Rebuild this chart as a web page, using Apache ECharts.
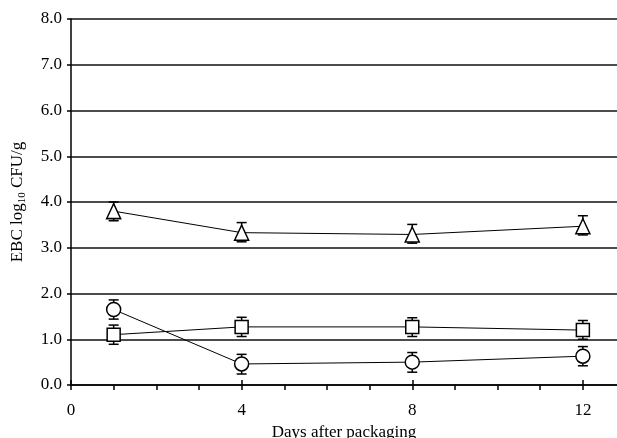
<!DOCTYPE html>
<html>
<head>
<meta charset="utf-8">
<script src="https://cdn.jsdelivr.net/npm/echarts@6/dist/echarts.min.js"></script>
<style>html,body{margin:0;padding:0;background:#fff}#c{width:617px;height:438px}</style>
</head>
<body>
<div id="c"></div>
<script>
const days = [1, 4, 8, 12];
const xTickValues = [0, 1, 2, 3, 4, 5, 6, 7, 8, 9, 10, 11, 12];
const xLabelValues = [0, 4, 8, 12];
const yTickValues = [0, 1, 2, 3, 4, 5, 6, 7, 8];

const triangleMean = [3.80, 3.33, 3.29, 3.47];
const triangleLow  = [3.59, 3.13, 3.10, 3.28];
const triangleHigh = [4.00, 3.55, 3.51, 3.70];

const squareMean = [1.10, 1.27, 1.27, 1.20];
const squareLow  = [0.89, 1.06, 1.06, 1.00];
const squareHigh = [1.31, 1.48, 1.47, 1.41];

const circleMean = [1.65, 0.46, 0.50, 0.63];
const circleLow  = [1.44, 0.24, 0.28, 0.42];
const circleHigh = [1.86, 0.67, 0.71, 0.84];

const FONT = 'Liberation Serif';

function pts(mean) { return days.map((d, i) => [d, mean[i]]); }
function errs(lo, hi) { return days.map((d, i) => [d, lo[i], hi[i]]); }

function errorRender(params, api) {
  const x = api.value(0);
  const pHi = api.coord([x, api.value(2)]);
  const pLo = api.coord([x, api.value(1)]);
  const w = 5;
  const style = { stroke: '#000', lineWidth: 1.5 };
  return {
    type: 'group',
    children: [
      { type: 'line', shape: { x1: pHi[0], y1: pHi[1], x2: pLo[0], y2: pLo[1] }, style: style },
      { type: 'line', shape: { x1: pHi[0] - w, y1: pHi[1], x2: pHi[0] + w, y2: pHi[1] }, style: style },
      { type: 'line', shape: { x1: pLo[0] - w, y1: pLo[1], x2: pLo[0] + w, y2: pLo[1] }, style: style }
    ]
  };
}

function lineSeries(name, mean, symbol, size) {
  return {
    name: name, type: 'line', data: pts(mean), symbol: symbol, symbolSize: size,
    showAllSymbol: true, z: 5,
    lineStyle: { color: '#000', width: 1 },
    itemStyle: { color: '#fff', borderColor: '#000', borderWidth: 1.5 },
    emphasis: { disabled: true }, animation: false
  };
}
function errSeries(lo, hi) {
  return { type: 'custom', data: errs(lo, hi), renderItem: errorRender, z: 3, animation: false, silent: true };
}

const chart = echarts.init(document.getElementById('c'), null, { renderer: 'canvas' });
chart.setOption({
  animation: false,
  backgroundColor: '#fff',
  grid: { left: 71, right: 0, top: 19, bottom: 53, containLabel: false, outerBoundsMode: 'none' },
  xAxis: [{
    type: 'value', min: 0, max: 12.8, interval: 1,
    name: 'Days after packaging', nameLocation: 'middle', nameGap: 33,
    nameTextStyle: { fontFamily: FONT, fontSize: 17, color: '#000' },
    axisLine: { show: true, lineStyle: { color: '#000', width: 1.5 } },
    axisTick: { show: true, length: 5, lineStyle: { color: '#000', width: 1.5 }, customValues: xTickValues },
    axisLabel: { fontFamily: FONT, fontSize: 17, color: '#000', margin: 17, customValues: xLabelValues },
    splitLine: { show: false }
  }, {
    type: 'value', min: 0, max: 12.8, interval: 1, position: 'bottom',
    axisLine: { show: false },
    axisTick: { show: true, inside: true, length: 5, lineStyle: { color: '#000', width: 1.5 }, customValues: xLabelValues },
    axisLabel: { show: false },
    splitLine: { show: false }
  }],
  yAxis: {
    type: 'value', min: 0, max: 8, interval: 1,
    name: '{a|EBC log}{b|10}{a| CFU/g}', nameLocation: 'middle', nameGap: 43, nameRotate: 90,
    nameTextStyle: {
      color: '#000',
      rich: {
        a: { fontFamily: FONT, fontSize: 17, color: '#000', lineHeight: 20 },
        b: { fontFamily: FONT, fontSize: 11, color: '#000', lineHeight: 20, verticalAlign: 'bottom', padding: [7, 0, 0, 0] }
      }
    },
    axisLine: { show: true, lineStyle: { color: '#000', width: 1.5 } },
    axisTick: { show: true, length: 4, lineStyle: { color: '#000', width: 1.5 }, customValues: yTickValues },
    axisLabel: { fontFamily: FONT, fontSize: 17, color: '#000', margin: 9, formatter: v => v.toFixed(1) },
    splitLine: { show: true, lineStyle: { color: '#111', width: 1.5 } }
  },
  series: [
    errSeries(triangleLow, triangleHigh),
    errSeries(squareLow, squareHigh),
    errSeries(circleLow, circleHigh),
    lineSeries('triangle', triangleMean, 'triangle', [14, 15]),
    lineSeries('square', squareMean, 'rect', 13),
    lineSeries('circle', circleMean, 'circle', 14)
  ]
});
</script>
</body>
</html>
